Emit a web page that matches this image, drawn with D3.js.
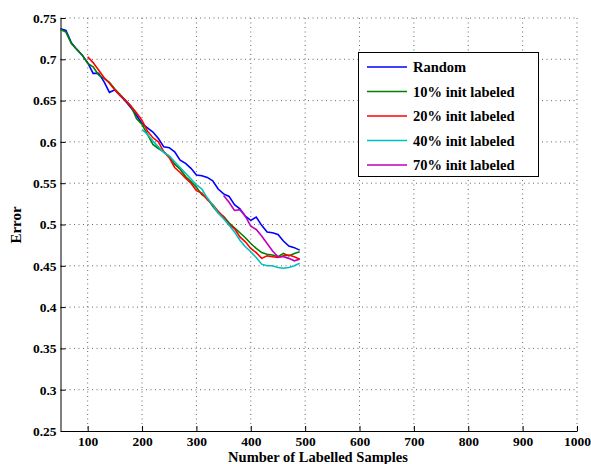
<!DOCTYPE html>
<html><head><meta charset="utf-8">
<script src="https://cdn.jsdelivr.net/npm/d3@7"></script>
<style>body{margin:0;background:#fff}svg{display:block}svg text{font-family:"Liberation Serif","Times New Roman",Times,"DejaVu Serif",serif !important;font-weight:bold}</style>
</head><body><div id="c"></div>
<script>
const xTicks = [100,200,300,400,500,600,700,800,900,1000];
const yTicks = [0.25,0.3,0.35,0.4,0.45,0.5,0.55,0.6,0.65,0.7,0.75];
const seriesNames = ["Random","10% init labeled","20% init labeled","40% init labeled","70% init labeled"];
const seriesColors = ["#0000ff","#008000","#ff0000","#00bfbf","#bf00bf"];
const seriesStart = [50,50,100,200,350];
const randomVals = [0.737,0.735,0.720,0.712,0.705,0.696,0.683,0.683,0.673,0.660,0.663,0.656,0.649,0.641,0.632,0.622,0.617,0.612,0.604,0.594,0.593,0.588,0.578,0.574,0.568,0.560,0.559,0.557,0.553,0.543,0.537,0.534,0.524,0.519,0.510,0.505,0.509,0.499,0.491,0.490,0.488,0.480,0.474,0.472,0.469];
const init10Vals = [0.736,0.733,0.719,0.712,0.705,0.695,0.691,0.681,0.677,0.672,0.664,0.657,0.650,0.643,0.628,0.621,0.609,0.597,0.592,0.588,0.582,0.573,0.567,0.558,0.552,0.545,0.536,0.532,0.522,0.514,0.510,0.502,0.496,0.490,0.484,0.477,0.471,0.466,0.464,0.463,0.461,0.465,0.462,0.465,0.467];
const init20Vals = [0.703,0.696,0.687,0.678,0.671,0.663,0.656,0.650,0.643,0.635,0.626,0.613,0.605,0.600,0.588,0.581,0.569,0.563,0.556,0.550,0.541,0.538,0.530,0.524,0.516,0.509,0.500,0.495,0.485,0.479,0.471,0.466,0.459,0.462,0.461,0.460,0.462,0.463,0.461,0.458];
const init40Vals = [0.615,0.609,0.601,0.594,0.587,0.583,0.576,0.569,0.562,0.555,0.548,0.543,0.532,0.524,0.514,0.507,0.499,0.491,0.481,0.473,0.467,0.460,0.452,0.450,0.450,0.448,0.447,0.448,0.450,0.453];
const init70Vals = [0.535,0.527,0.517,0.518,0.510,0.498,0.494,0.486,0.477,0.468,0.461,0.461,0.459,0.456,0.458];
const allVals = [randomVals,init10Vals,init20Vals,init40Vals,init70Vals];
const xStep = 10;

const FONT='"Liberation Serif","Times New Roman",Times,"DejaVu Serif",serif';
const W=591,H=464, L=60.5, R=577, T=18, B=431;
const svg=d3.select("#c").append("svg").attr("width",W).attr("height",H).attr("font-family",FONT);
const x=d3.scaleLinear().domain([50,1000]).range([L,R]);
const y=d3.scaleLinear().domain([0.25,0.75]).range([B,T]);

// grid
const g=svg.append("g");
g.selectAll(".vg").data(xTicks).join("line").attr("x1",d=>x(d)).attr("x2",d=>x(d)).attr("y1",T).attr("y2",B)
 .attr("stroke","#666").attr("stroke-width",1).attr("stroke-dasharray","1,3.5");
g.selectAll(".hg").data(yTicks.filter(d=>d>0.25)).join("line").attr("x1",L).attr("x2",R).attr("y1",d=>y(d)).attr("y2",d=>y(d))
 .attr("stroke","#666").attr("stroke-width",1).attr("stroke-dasharray","1,3.5");

// axes
const xa=svg.append("g").attr("transform",`translate(0,${B})`)
 .call(d3.axisBottom(x).tickValues(xTicks).tickFormat(d3.format("d")).tickSizeInner(-5).tickSizeOuter(0).tickPadding(5));
const ya=svg.append("g").attr("transform",`translate(${L},0)`)
 .call(d3.axisLeft(y).tickValues(yTicks).tickFormat(d=>String(+d.toFixed(2))).tickSizeInner(-5).tickSizeOuter(0).tickPadding(4));
[xa,ya].forEach(a=>{a.attr("font-family",FONT).attr("font-size",13.5);
 a.selectAll("text").attr("fill","#000");
 a.select(".domain").attr("stroke","#000");a.selectAll(".tick line").attr("stroke","#000");});

// lines
const line=d3.line().x(d=>x(d[0])).y(d=>y(d[1]));
allVals.forEach((vals,i)=>{
  const pts=vals.map((v,j)=>[seriesStart[i]+j*xStep,v]);
  svg.append("path").datum(pts).attr("d",line).attr("fill","none").attr("stroke",seriesColors[i]).attr("stroke-width",1.6);
});

// labels
svg.append("text").attr("x",318).attr("y",461.5).attr("text-anchor","middle").attr("font-size",14.5).text("Number of Labelled Samples");
svg.append("text").attr("transform","translate(21,225) rotate(-90)").attr("text-anchor","middle").attr("font-size",15).text("Error");

// legend
const lg=svg.append("g");
lg.append("rect").attr("x",358.5).attr("y",52.5).attr("width",180).attr("height",124).attr("fill","#fff").attr("stroke","#000");
seriesNames.forEach((n,i)=>{
  const yy=67+i*24.5;
  lg.append("line").attr("x1",367).attr("x2",407).attr("y1",yy).attr("y2",yy).attr("stroke",seriesColors[i]).attr("stroke-width",1.6);
  lg.append("text").attr("x",413).attr("y",yy+5).attr("font-size",14.5).text(n);
});
</script></body></html>
